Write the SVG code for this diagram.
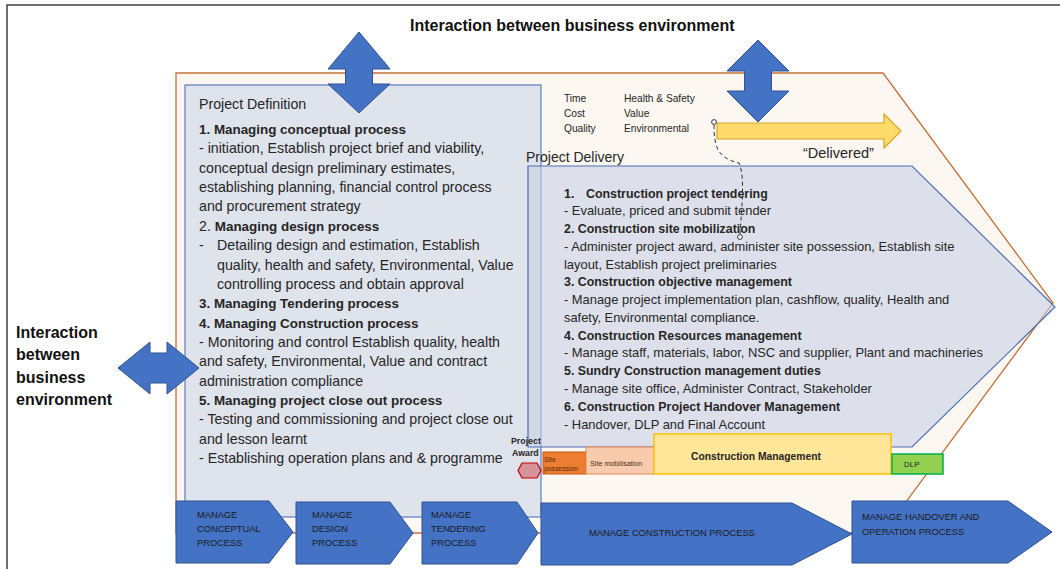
<svg xmlns="http://www.w3.org/2000/svg" width="1060" height="569" viewBox="0 0 1060 569">
<defs>
<style>
.t{font-family:"Liberation Sans",Arial,sans-serif;fill:#262626}
.d{font-size:14.2px}
.db{font-size:13.4px;font-weight:bold}
.p{font-size:12.9px}
.pb{font-size:12.4px;font-weight:bold}
.s{font-size:10.2px}
.blue{fill:#4472C4;stroke:#2F528F;stroke-width:1}
.ch{font-family:"Liberation Sans",Arial,sans-serif;font-size:9.3px;fill:#1a1a1a}
.big{font-family:"Liberation Sans",Arial,sans-serif;font-size:16px;font-weight:bold;fill:#111}
</style>
</defs>
<rect x="0" y="0" width="1060" height="569" fill="#ffffff"/>
<rect x="7" y="5" width="1070" height="580" fill="none" stroke="#404040" stroke-width="1.5"/>

<g id="title">
<text class="big" x="410" y="31">Interaction between business environment</text>
</g>

<g id="project-frame">
<polygon points="176,73 883,73 1053,303 883,533 176,533" fill="#FDF7F2" stroke="#C5713A" stroke-width="1.3"/>
</g>

<g id="project-definition">
<rect x="185" y="85" width="356" height="432" fill="#DFE3EC" stroke="#5B7DBE" stroke-width="1.2"/>
<text class="t d" x="199" y="109">Project Definition</text>
<text class="t db" x="199" y="134">1. Managing conceptual process</text>
<text class="t d" x="199" y="153.4">- initiation, Establish project brief and viability,</text>
<text class="t d" x="199" y="172.7">conceptual design preliminary estimates,</text>
<text class="t d" x="199" y="192">establishing planning, financial control process</text>
<text class="t d" x="199" y="211.4">and procurement strategy</text>
<text class="t d" x="199" y="230.8">2. <tspan class="db">Managing design process</tspan></text>
<text class="t d" x="199" y="250.1">-</text>
<text class="t d" x="217" y="250.1">Detailing design and estimation, Establish</text>
<text class="t d" x="217" y="269.5">quality, health and safety, Environmental, Value</text>
<text class="t d" x="217" y="288.8">controlling process and obtain approval</text>
<text class="t db" x="199" y="308.2">3. Managing Tendering process</text>
<text class="t db" x="199" y="327.5">4. Managing Construction process</text>
<text class="t d" x="199" y="346.9">- Monitoring and control Establish quality, health</text>
<text class="t d" x="199" y="366.2">and safety, Environmental, Value and contract</text>
<text class="t d" x="199" y="385.6">administration compliance</text>
<text class="t db" x="199" y="404.9">5. Managing project close out process</text>
<text class="t d" x="199" y="424.3">- Testing and commissioning and project close out</text>
<text class="t d" x="199" y="443.6">and lesson learnt</text>
<text class="t d" x="199" y="463">- Establishing operation plans and &amp; programme</text>
</g>

<g id="interaction-top-left">
<polygon class="blue" points="359,32 390,69 372.5,69 372.5,84 390,84 359,113 328,84 345.5,84 345.5,69 328,69"/>
</g>
<g id="interaction-top-right">
<polygon class="blue" points="758,40 789,71 771.5,71 771.5,91 789,91 758,122 727,91 744.5,91 744.5,71 727,71"/>
</g>
<g id="interaction-left">
<polygon class="blue" points="118,368 150,342 150,353 167,353 167,342 199,368 167,394 167,383 150,383 150,394"/>
<text class="big" x="16" y="337.5">Interaction</text>
<text class="big" x="16" y="360">between</text>
<text class="big" x="16" y="382.5">business</text>
<text class="big" x="16" y="404.5">environment</text>
</g>

<g id="objectives">
<text class="t s" x="564" y="102">Time</text>
<text class="t s" x="564" y="117">Cost</text>
<text class="t s" x="564" y="132">Quality</text>
<text class="t s" x="624" y="102">Health &amp; Safety</text>
<text class="t s" x="624" y="117">Value</text>
<text class="t s" x="624" y="132">Environmental</text>
</g>

<g id="delivered-arrow">
<polygon points="717,123 884,123 884,114 901,131 884,148 884,139 717,139" fill="#FFDB6E" stroke="#D9A520" stroke-width="1.2"/>
<text class="t" x="803" y="158" style="font-size:14.5px">“Delivered”</text>
</g>

<g id="project-delivery">
<polygon points="528,166 912,166 1055,307 912,447 528,447" fill="rgb(200,208,228)" fill-opacity="0.6" stroke="#4A6FB5" stroke-width="1.2"/>
<text class="t" x="526" y="162" style="font-size:14px">Project Delivery</text>
<text class="t pb" x="564" y="197.5">1.</text>
<text class="t pb" x="586" y="197.5">Construction project tendering</text>
<text class="t p" x="564" y="215.3">- Evaluate, priced and submit tender</text>
<text class="t pb" x="564" y="233">2. Construction site mobilization</text>
<text class="t p" x="564" y="250.8">- Administer project award, administer site possession, Establish site</text>
<text class="t p" x="564" y="268.6">layout, Establish project preliminaries</text>
<text class="t pb" x="564" y="286.4">3. Construction objective management</text>
<text class="t p" x="564" y="304.1">- Manage project implementation plan, cashflow, quality, Health and</text>
<text class="t p" x="564" y="321.9">safety, Environmental compliance.</text>
<text class="t pb" x="564" y="339.7">4. Construction Resources management</text>
<text class="t p" x="564" y="357.4">- Manage staff, materials, labor, NSC and supplier, Plant and machineries</text>
<text class="t pb" x="564" y="375.2">5. Sundry Construction management duties</text>
<text class="t p" x="564" y="393">- Manage site office, Administer Contract, Stakeholder</text>
<text class="t pb" x="564" y="410.7">6. Construction Project Handover Management</text>
<text class="t p" x="564" y="428.5">- Handover, DLP and Final Account</text>
</g>

<g id="connectors">
<path d="M714,125 C714,146 717,158 739,163 C745,176 742,205 740,234" fill="none" stroke="#333" stroke-width="1" stroke-dasharray="4,3"/>
<circle cx="714" cy="122" r="2.4" fill="#fff" stroke="#333" stroke-width="1"/>
<circle cx="740" cy="237" r="2.4" fill="#fff" stroke="#333" stroke-width="1"/>
</g>

<g id="project-award">
<text class="t" x="511" y="444" style="font-size:8.8px;font-weight:bold">Project</text>
<text class="t" x="512" y="456" style="font-size:8.8px;font-weight:bold">Award</text>
<polygon points="522,463 537,463 541,470.5 537,478 522,478 518,470.5" fill="#D8929C" stroke="#C00000" stroke-width="1.2"/>
</g>
<g id="site-possession">
<rect x="543" y="452" width="43" height="22" fill="#ED7D31" stroke="#C55A11" stroke-width="1"/>
<text class="t" x="544" y="461.5" style="font-size:6.8px;fill:#5a2a08">Site</text>
<text class="t" x="544" y="470.5" style="font-size:6.8px;fill:#5a2a08">possession</text>
</g>
<g id="site-mobilisation">
<rect x="586" y="447" width="68" height="27" fill="#F8CBAD" stroke="#E08A50" stroke-width="1"/>
<text class="t" x="590" y="465.5" style="font-size:7.2px;fill:#4a3020">Site mobilisation</text>
</g>
<g id="construction-management">
<rect x="654" y="434" width="237" height="40" fill="#FFE699" stroke="#FFC000" stroke-width="1.5"/>
<text class="t" x="691" y="460" style="font-size:10.3px;font-weight:bold">Construction Management</text>
</g>
<g id="dlp">
<rect x="892" y="454" width="51" height="20" fill="#92D050" stroke="#00B050" stroke-width="1.5"/>
<text class="t" x="904" y="466.5" style="font-size:8px">DLP</text>
</g>

<g id="manage-conceptual">
<polygon class="blue" points="176,501 269,501 293,532 269,563 176,563"/>
<text class="ch" x="197" y="518">MANAGE</text>
<text class="ch" x="197" y="532">CONCEPTUAL</text>
<text class="ch" x="197" y="546">PROCESS</text>
</g>
<g id="manage-design">
<polygon class="blue" points="296,502 390,502 413,533 390,564 296,564"/>
<text class="ch" x="312" y="518">MANAGE</text>
<text class="ch" x="312" y="532">DESIGN</text>
<text class="ch" x="312" y="546">PROCESS</text>
</g>
<g id="manage-tendering">
<polygon class="blue" points="422,502 517,502 538,533 517,564 422,564"/>
<text class="ch" x="431" y="517.5">MANAGE</text>
<text class="ch" x="431" y="531.5">TENDERING</text>
<text class="ch" x="431" y="546">PROCESS</text>
</g>
<g id="manage-construction">
<polygon class="blue" points="541,503 792,503 852,534 792,565 541,565"/>
<text class="ch" x="589" y="535.5">MANAGE CONSTRUCTION PROCESS</text>
</g>
<g id="manage-handover">
<polygon class="blue" points="852,501 1008,501 1052,532 1008,563 852,563"/>
<text class="ch" x="862" y="519.5">MANAGE HANDOVER AND</text>
<text class="ch" x="862" y="534.5">OPERATION PROCESS</text>
</g>
</svg>
